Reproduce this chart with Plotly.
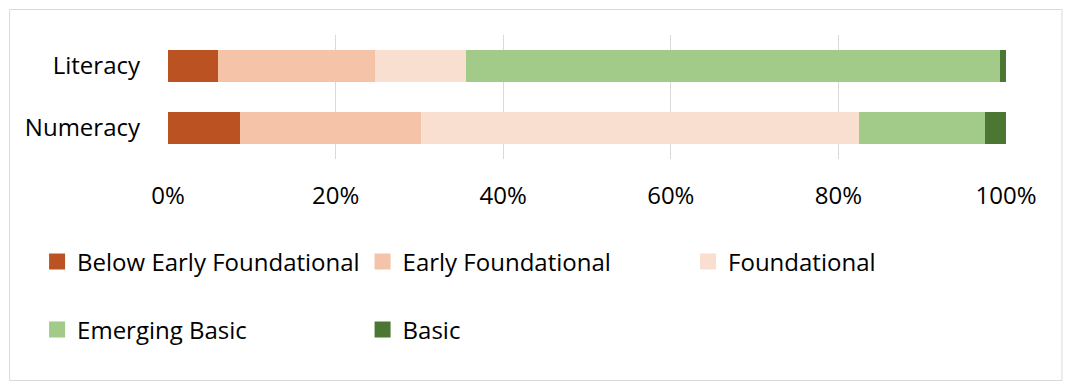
import plotly.graph_objects as go

categories = ["Literacy", "Numeracy"]
levels = ["Below Early Foundational", "Early Foundational", "Foundational", "Emerging Basic", "Basic"]
below_early = [6.0, 8.6]
early = [18.7, 21.6]
foundational = [10.9, 52.3]
emerging = [63.7, 15.0]
basic = [0.7, 2.5]
series = [below_early, early, foundational, emerging, basic]
colors = ["#BB5222", "#F5C3A7", "#F8DFD0", "#A2CA89", "#4C7733"]
tick_vals = [0, 20, 40, 60, 80, 100]
tick_text = ["0%", "20%", "40%", "60%", "80%", "100%"]

# page body has an 8px margin; work in window pixel coordinates
OFF = 8
W, H = 1073 - OFF, 392 - OFF
PL, PR, PT, PB = 168, 1006.5, 35, 159  # plot area in window pixels
ML, MT = PL - OFF, PT - OFF
MR = W - (PR - OFF)
MB = H - (PB - OFF)
pw = PR - PL
ph = PB - PT

def px2x(p):
    return (p - PL) / pw

def py2y(p):
    return (PB - p) / ph

FONT = "Open Sans"
FS = 24
fig = go.Figure()
for name, vals, col in zip(levels, series, colors):
    fig.add_trace(go.Bar(
        y=categories, x=vals, name=name, orientation="h",
        marker=dict(color=col, line=dict(width=0)),
        showlegend=False, hoverinfo="x+name",
    ))
# legend entries
for i, (name, col) in enumerate(zip(levels, colors)):
    fig.add_trace(go.Scatter(
        x=[None], y=[None], mode="markers", name=name,
        marker=dict(symbol="square", size=16, color=col),
        legend="legend" if i < 3 else "legend2",
    ))

legend_common = dict(
    orientation="h", xanchor="left", yanchor="middle",
    entrywidth=280.5, entrywidthmode="pixels", traceorder="normal",
    font=dict(family=FONT, size=FS, color="#000"),
    bgcolor="rgba(0,0,0,0)", itemwidth=30, tracegroupgap=0,
)
fig.update_layout(
    width=W, height=H,
    margin=dict(l=ML, r=MR, t=MT, b=MB, autoexpand=False),
    barmode="stack", bargap=0.468,
    plot_bgcolor="white", paper_bgcolor="white",
    font=dict(family=FONT, size=FS, color="#000"),
    xaxis=dict(range=[0, 100], tickvals=tick_vals, ticktext=tick_text,
               showgrid=True, gridcolor="#D9D9D9", gridwidth=1,
               zeroline=False, showline=False, ticks="",
               ticklabelstandoff=20, fixedrange=True),
    yaxis=dict(categoryorder="array", categoryarray=categories[::-1],
               showgrid=False, zeroline=False, showline=False, ticks="",
               ticklabelstandoff=27, fixedrange=True),
    legend=dict(x=px2x(37), y=py2y(262), **legend_common),
    legend2=dict(x=px2x(37), y=py2y(330), **legend_common),
    shapes=[dict(type="rect", xref="paper", yref="paper",
                 x0=px2x(9.5), x1=px2x(1062.5), y0=py2y(380.5), y1=py2y(9.5),
                 line=dict(color="#D9D9D9", width=1), layer="below")],
)
fig.write_html("out.html")
